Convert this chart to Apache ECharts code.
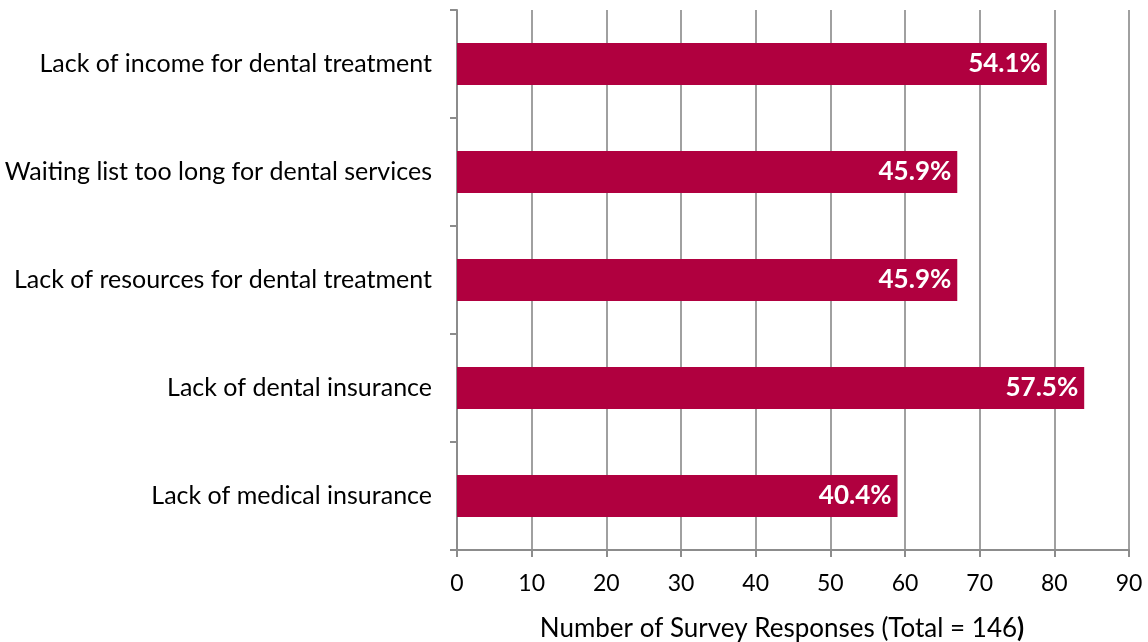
<!DOCTYPE html>
<html><head><meta charset="utf-8">
<script src="https://cdn.jsdelivr.net/npm/echarts@6/dist/echarts.min.js"></script>
<style>html,body{margin:0;padding:0;background:#fff}#c{width:1148px;height:642px}</style>
</head><body><div id="c"></div>
<script>
const categories = ["Lack of income for dental treatment","Waiting list too long for dental services","Lack of resources for dental treatment","Lack of dental insurance","Lack of medical insurance"];
const responses = [79, 67, 67, 84, 59];
const percentLabels = ["54.1%","45.9%","45.9%","57.5%","40.4%"];
const xTicks = [0,10,20,30,40,50,60,70,80,90];

const FONT = 'Lato, "Open Sans", sans-serif';
const chart = echarts.init(document.getElementById('c'));
chart.setOption({
  animation:false,
  grid:{left:457,right:19,top:10,bottom:92,outerBoundsMode:'none',containLabel:false},
  xAxis:{type:'value',min:0,max:90,interval:10,
    axisLine:{show:true,lineStyle:{color:'#8c8c8c',width:2}},
    axisTick:{show:true,length:7,lineStyle:{color:'#8c8c8c',width:2}},
    splitLine:{show:true,lineStyle:{color:'#a0a0a0',width:2}},
    axisLabel:{color:'#000',fontSize:23,fontFamily:FONT,margin:22,formatter:v=>xTicks.includes(v)?String(v):''},
    name:'{n|Number of Survey Responses (Total = 146}{b|)}',
    nameLocation:'middle',nameGap:66,
    nameTextStyle:{padding:[0,22,0,0],rich:{n:{fontSize:26,fontFamily:FONT,color:'#000'},b:{fontSize:26,fontFamily:FONT,color:'#000',fontWeight:'bold'}}}
  },
  yAxis:{type:'category',data:categories,inverse:true,
    axisLine:{show:true,lineStyle:{color:'#8c8c8c',width:2}},
    axisTick:{show:true,length:7,alignWithLabel:false,lineStyle:{color:'#8c8c8c',width:2}},
    axisLabel:{color:'#000',fontSize:25,fontFamily:FONT,margin:25},
    splitLine:{show:false}
  },
  series:[{type:'bar',data:responses,barWidth:42,
    itemStyle:{color:'#B0003F'},
    label:{show:true,position:'insideRight',distance:6,color:'#fff',fontWeight:'bold',fontSize:26,fontFamily:FONT,
      formatter:p=>percentLabels[p.dataIndex]}
  }]
});
</script></body></html>
